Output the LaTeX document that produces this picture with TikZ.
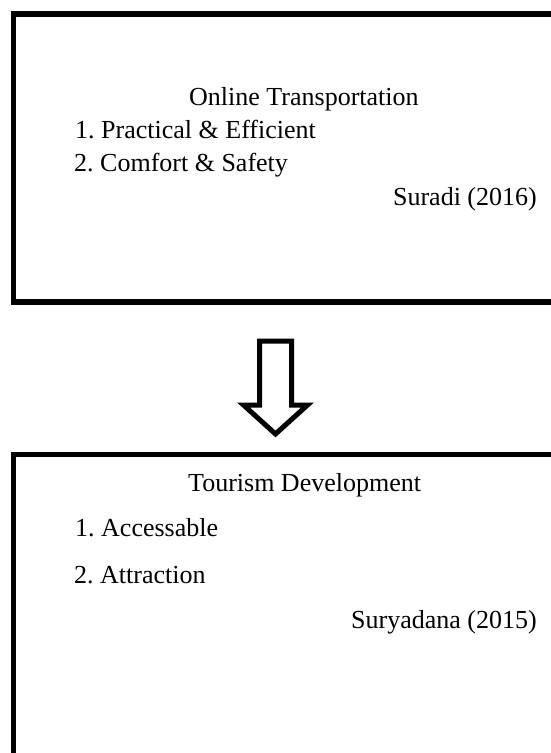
\documentclass[tikz,border=0pt]{standalone}
\usepackage{fontspec}
\setmainfont{Liberation Serif}
\frenchspacing
\begin{document}
\begin{tikzpicture}[x=1pt,y=-1pt,
  frame/.style={line width=5.5pt},
  txt/.style={inner sep=0pt,anchor=base west,font=\fontsize{26}{30}\selectfont},
  txtr/.style={inner sep=0pt,anchor=base east,font=\fontsize{26}{30}\selectfont},
  hollowarrow/.style={line width=5pt,line join=miter,miter limit=10,fill=white}]
\useasboundingbox (0,0) rectangle (551,753);
\clip (0,0) rectangle (551,753);
% top box
\draw[frame] (570,13.8) -- (13.3,13.8) -- (13.3,302) -- (570,302);
% bottom box
\draw[frame] (570,454.5) -- (13.3,454.5) -- (13.3,770);
% texts top
\node[txt] (ot) at (189,105) {Online Transportation};
\node[txt] (p1) at (75,138.3) {1. Practical \& Efficient};
\node[txt] (p2) at (74,171.7) {2. Comfort \& Safety};
\node[txtr] (sur) at (537,205) {Suradi (2016)};
% texts bottom
\node[txt] (td) at (188,491.5) {Tourism Development};
\node[txt] (a1) at (75,536.7) {1. Accessable};
\node[txt] (a2) at (74,583.3) {2. Attraction};
\node[txtr] (sury) at (537,628.3) {Suryadana (2015)};
% hollow arrow
\coordinate (tipc) at (275.5,434);
\draw[hollowarrow] (259.5,341) -- (291.5,341) -- (291.5,405) -- (307.5,405) -- (tipc) -- (243.5,405) -- (259.5,405) -- cycle;
\end{tikzpicture}
\end{document}
